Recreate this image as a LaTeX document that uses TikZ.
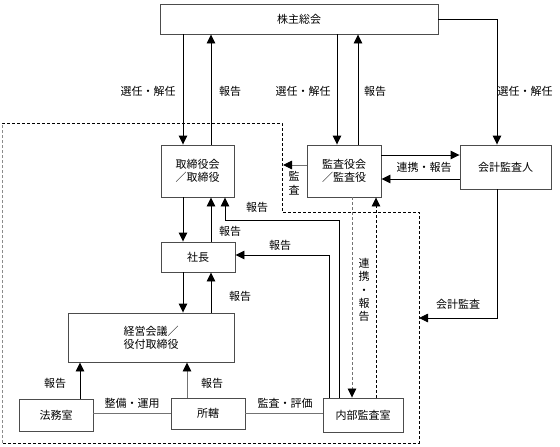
\documentclass[tikz,border=0pt]{standalone}
\usepackage{fontspec}
\setmainfont{Noto Sans CJK JP}
\usetikzlibrary{arrows.meta}
\begin{document}
\begin{tikzpicture}[x=1pt,y=-1pt,
  font=\fontsize{11}{13.3}\selectfont,
  box/.style={draw=black!70,line width=0.9pt,fill=white,inner sep=0pt,align=center},
  arr/.style={line width=0.9pt,-{Triangle[width=8.5pt,length=9pt,color=black]}},
  ln/.style={line width=0.9pt},
  glin/.style={line width=0.9pt,draw=black!55},
  garr/.style={arr,draw=black!55},
  dsh/.style={line width=0.8pt,dash pattern=on 3pt off 2pt},
  lbl/.style={inner sep=0pt}]
\useasboundingbox (0,0) rectangle (560,447);
% dashed boundary
\draw[dsh] (2,123) -- (282,123) -- (282,212) -- (419,212) -- (419,443) -- (2,443);
\draw[dsh,draw=black!45] (2,443) -- (2,123);
% boxes
\node[box,minimum width=278pt,minimum height=30pt] (kabu) at (299,19) {株主総会};
\node[box,minimum width=73pt,minimum height=52pt] (tori) at (197.5,171) {取締役会\\／取締役};
\node[box,minimum width=74pt,minimum height=52pt] (kansa) at (344,171) {監査役会\\／監査役};
\node[box,minimum width=91pt,minimum height=44pt] (kaikei) at (505.5,167) {会計監査人};
\node[box,minimum width=74pt,minimum height=30pt] (shacho) at (198,257) {社長};
\node[box,minimum width=166pt,minimum height=49pt] (keiei) at (151,337.5) {経営会議／\\役付取締役};
\node[box,minimum width=74pt,minimum height=32pt] (homu) at (56,415) {法務室};
\node[box,minimum width=74pt,minimum height=31pt] (shokatsu) at (208,413.5) {所轄};
\node[box,minimum width=80pt,minimum height=34pt] (naibu) at (363,415) {内部監査室};
% helper coordinates
\coordinate (x80) at (80,0);
\coordinate (x183) at (183,0);
\coordinate (x187) at (187,0);
\coordinate (x211) at (211,0);
\coordinate (x225) at (225,0);
\coordinate (x329) at (329,0);
\coordinate (x337) at (337,0);
\coordinate (x339) at (339,0);
\coordinate (x352) at (352,0);
\coordinate (x358) at (358,0);
\coordinate (x376) at (376,0);
\coordinate (x497) at (497,0);
\coordinate (y155) at (0,155);
\coordinate (y165) at (0,165);
\coordinate (y179) at (0,179);
\coordinate (y255) at (0,255);
\coordinate (y413) at (0,413);
\coordinate (kk) at (339,220);
\coordinate (dl) at (283,165);
\coordinate (br) at (419,318);
% shareholders meeting
\draw[arr] (kabu.south -| x183) -- (tori.north -| x183);
\draw[arr] (tori.north -| x211) -- (kabu.south -| x211);
\draw[arr] (kabu.south -| x337) -- (kansa.north -| x337);
\draw[arr] (kansa.north -| x358) -- (kabu.south -| x358);
\draw[arr] (kabu.east) -| (kaikei.north -| x497);
% auditors
\draw[arr] (kansa.east |- y155) -- (kaikei.west |- y155);
\draw[arr] (kaikei.west |- y179) -- (kansa.east |- y179);
\draw[garr] (kansa.west |- y165) -- (dl);
\draw[arr] (kaikei.south -| x497) |- (br);
\draw[arr,dsh,draw=black!55] (kansa.south -| x352) -- (naibu.north -| x352);
\draw[arr,dsh] (naibu.north -| x376) -- (kansa.south -| x376);
% board / president
\draw[arr] (tori.south -| x183) -- (shacho.north -| x183);
\draw[arr] (shacho.north -| x211) -- (tori.south -| x211);
\draw[arr] (naibu.north -| kk) -- (kk) -| (tori.south -| x225);
\draw[arr] (naibu.north -| x329) |- (shacho.east |- y255);
\draw[arr] (shacho.south -| x183) -- (keiei.north -| x183);
\draw[arr] (keiei.north -| x211) -- (shacho.south -| x211);
% bottom
\draw[arr] (homu.north -| x80) -- (keiei.south -| x80);
\draw[garr] (shokatsu.north -| x187) -- (keiei.south -| x187);
\draw[glin] (homu.east |- y413) -- (shokatsu.west |- y413);
\draw[glin] (shokatsu.east |- y413) -- (naibu.west |- y413);
% labels
\node[lbl] (l1) at (148,91) {選任・解任};
\node[lbl] (l2) at (230,91) {報告};
\node[lbl] (l3) at (303,91) {選任・解任};
\node[lbl] (l4) at (375,91) {報告};
\node[lbl] (l5) at (525,91) {選任・解任};
\node[lbl] (l6) at (424,167) {連携・報告};
\node[lbl,align=center,font=\fontsize{11}{14}\selectfont] (l7) at (294,183) {監\\査};
\node[lbl] (l8) at (458,304) {会計監査};
\node[lbl,align=center] (l9) at (364,290) {連\\携\\・\\報\\告};
\node[lbl] (l10) at (257,207) {報告};
\node[lbl] (l11) at (230,231) {報告};
\node[lbl] (l12) at (280,245) {報告};
\node[lbl] (l13) at (240,296) {報告};
\node[lbl] (l14) at (55,383) {報告};
\node[lbl] (l15) at (212,383) {報告};
\node[lbl] (l16) at (132,403) {整備・運用};
\node[lbl] (l17) at (285,403) {監査・評価};
\end{tikzpicture}
\end{document}
